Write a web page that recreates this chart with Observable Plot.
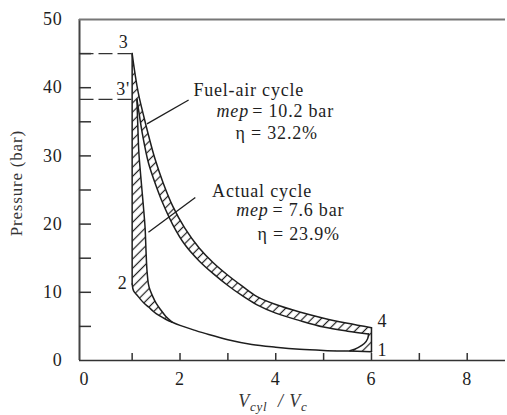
<!DOCTYPE html>
<html><head><meta charset="utf-8">
<script src="https://cdn.jsdelivr.net/npm/d3@7"></script>
<script src="https://cdn.jsdelivr.net/npm/@observablehq/plot@0.6"></script>
<style>
html,body{margin:0;padding:0;background:#fff;}
#chart svg{display:block;}
</style></head><body><div id="chart"></div>
<script>
// ---- data ----
// compression 1 -> 2 (shared by both cycles)
const compV = [6.00,5.50,5.00,4.50,4.00,3.50,3.00,2.60,2.30,2.00,1.84,1.70,1.56,1.45,1.35,1.25,1.17,1.10,1.03,1.00];
const compP = [1.30,1.38,1.48,1.65,1.95,2.35,3.05,3.80,4.45,5.15,5.60,6.05,6.60,7.15,7.80,8.40,9.00,9.60,10.20,11.20];
// fuel-air expansion 3 -> 4
const fuelExpV = [1.00,1.05,1.10,1.15,1.25,1.35,1.48,1.65,1.85,2.10,2.40,2.70,3.00,3.30,3.60,4.00,4.50,5.00,5.50,6.00];
const fuelExpP = [45.0,42.5,40.3,38.5,35.6,32.8,29.5,26.0,22.6,19.4,16.5,14.3,12.5,10.9,9.4,8.2,7.1,6.2,5.45,4.8];
// actual cycle: combustion rise, expansion, blowdown
const actRiseV = [1.84,1.70,1.60,1.50,1.43,1.37,1.34,1.31,1.29,1.27,1.23,1.18,1.14,1.12,1.10];
const actRiseP = [5.60,6.50,7.40,8.40,9.40,10.40,11.20,13.20,16.0,19.5,23.0,27.0,30.5,34.0,38.3];
const actExpV = [1.10,1.15,1.22,1.34,1.48,1.65,1.85,2.10,2.40,2.70,3.00,3.30,3.60,4.00,4.50,5.00,5.50,5.94];
const actExpP = [38.3,36.0,33.0,29.0,26.0,22.9,19.9,17.0,14.6,12.7,11.0,9.5,8.2,6.95,5.85,4.9,4.3,3.9];
const actBlowV = [5.94,5.92,5.85,5.72,5.55];
const actBlowP = [3.9,3.2,2.5,1.9,1.42];
// peak-pressure dashed guides (3 and 3')
const dashV = [1.00,1.10];
const dashP = [45.0,38.3];
// point labels
const ptText = ["3","3'","2","4","1"];
const ptV = [0.82,0.81,0.80,6.23,6.23];
const ptP = [46.6,39.8,11.4,5.7,1.5];
// annotations
const noteText = ["Fuel-air cycle","η = 32.2%","Actual cycle","η = 23.9%"];
const noteV = [2.28,3.16,2.67,3.62];
const noteP = [39.7,33.3,24.8,18.5];
const mepText = ["= 10.2 bar","= 7.6 bar"];
const mepV = [3.44,3.85];
const mepValV = [3.51,3.93];
const mepP = [36.5,22.0];
// pointer lines
const ptrX1 = [2.18,2.32], ptrY1 = [38.2,23.9], ptrX2 = [1.31,1.34], ptrY2 = [34.7,18.8];
// axes
const xTickMarks = [1,2,3,4,5,6,7,8];
const xTickLabels = [0,2,4,6,8];
const yTickMarks = [5,10,15,20,25,30,35,40,45];
const yTickLabels = [0,10,20,30,40,50];

// ---- build tables ----
const pts = (V, P) => V.map((v, i) => ({v, p: P[i]}));
const comp = pts(compV, compP);
const fuelExp = pts(fuelExpV, fuelExpP);
const actRise = pts(actRiseV, actRiseP);
const actExp = pts(actExpV, actExpP);
const actBlow = pts(actBlowV, actBlowP);

const fuelPoly = [...comp, ...fuelExp];
const actPoly = [...comp.filter(d => d.v <= 5.5 && d.v >= 1.84), ...actRise.slice(1), ...actExp.slice(1), ...actBlow.slice(1)];

const seg = (name, arr) => arr.map(d => ({...d, seg: name}));
const strokes = [
  ...seg("comp", comp),
  ...seg("v23", [comp[comp.length - 1], fuelExp[0]]),
  ...seg("fexp", fuelExp),
  ...seg("v41", [fuelExp[fuelExp.length - 1], comp[0]]),
  ...seg("arise", actRise),
  ...seg("aexp", actExp),
  ...seg("ablow", actBlow)
];

const dashes = dashV.map((v, i) => ({x1: -0.1, x2: v, y: dashP[i]}));
const pointers = ptrX1.map((x, i) => ({x1: x, y1: ptrY1[i], x2: ptrX2[i], y2: ptrY2[i]}));
const pl = ptText.map((t, i) => ({t, v: ptV[i], p: ptP[i]}));
const notes = noteText.map((t, i) => ({t, v: noteV[i], p: noteP[i]}));
const meps = mepText.map((t, i) => ({t, v: mepV[i], vv: mepValV[i], p: mepP[i]}));

const INK = "#1e1e1e";
const FONT = "'Liberation Serif', 'Times New Roman', serif";

const plot = Plot.plot({
  width: 507, height: 415,
  marginLeft: 79, marginRight: 2, marginTop: 19, marginBottom: 55,
  x: {domain: [-0.1, 8.8]},
  y: {domain: [0, 50]},
  style: {fontFamily: FONT, fontSize: "18px", color: INK, background: "white", letterSpacing: "0.8px"},
  marks: [
    Plot.line(fuelPoly, {x: "v", y: "p", fill: "url(#hatch)", stroke: "none"}),
    Plot.line(actPoly, {x: "v", y: "p", fill: "white", stroke: "none"}),
    Plot.line(strokes, {x: "v", y: "p", z: "seg", stroke: INK, strokeWidth: 1.5, curve: "catmull-rom"}),
    Plot.link(dashes, {x1: "x1", x2: "x2", y1: "y", y2: "y", stroke: "#333", strokeWidth: 1.3, strokeDasharray: "14,5"}),
    Plot.link(pointers, {x1: "x1", y1: "y1", x2: "x2", y2: "y2", stroke: INK, strokeWidth: 1.3}),
    Plot.text(pl, {x: "v", y: "p", text: "t", fontSize: 18, fill: INK}),
    Plot.text(notes, {x: "v", y: "p", text: "t", textAnchor: "start", fontSize: 18, fill: INK}),
    Plot.text(meps, {x: "v", y: "p", text: () => "mep", textAnchor: "end", fontStyle: "italic", fontSize: 18, fill: INK}),
    Plot.text(meps, {x: "vv", y: "p", text: "t", textAnchor: "start", fontSize: 18, fill: INK}),
    Plot.text(["Pressure (bar)"], {x: -0.1, y: 26, dx: -63, rotate: -90, text: d => d, fontSize: 17, fill: "#333"}),
    Plot.ruleX([-0.1], {stroke: "#444", strokeWidth: 2}),
    Plot.ruleY([0], {stroke: "#333", strokeWidth: 1.6}),
    Plot.ruleY([50], {stroke: "#777", strokeWidth: 2}),
    Plot.axisY({ticks: yTickMarks, tickSize: -12, tickFormat: () => "", label: null, stroke: "#333", strokeWidth: 1.5}),
    Plot.axisY({ticks: yTickLabels, tickSize: 0, tickPadding: 17, label: null, fontSize: 18}),
    Plot.axisX({ticks: xTickMarks, tickSize: -7, tickFormat: () => "", label: null, stroke: "#333", strokeWidth: 1.5}),
    Plot.axisX({ticks: xTickLabels, tickSize: 0, tickPadding: 12, label: null, fontSize: 18})
  ]
});

// hatch pattern
const svg = d3.select(plot);
const defs = svg.insert("defs", ":first-child");
const pat = defs.append("pattern").attr("id", "hatch").attr("patternUnits", "userSpaceOnUse")
  .attr("width", 6.5).attr("height", 6.5).attr("patternTransform", "rotate(45)");
pat.append("rect").attr("width", 6.5).attr("height", 6.5).attr("fill", "white");
pat.append("line").attr("x1", 3.25).attr("y1", 0).attr("x2", 3.25).attr("y2", 6.5)
  .attr("stroke", INK).attr("stroke-width", 1.2);

// x-axis label with subscripts
const xs = plot.scale("x"), ys = plot.scale("y");
const t = svg.append("text").attr("x", xs.apply(3.95)).attr("y", ys.apply(0) + 47)
  .attr("text-anchor", "middle").attr("fill", "#333")
  .style("font-family", FONT).style("font-size", "18px").style("letter-spacing", "0.8px");
t.append("tspan").style("font-style", "italic").text("V");
t.append("tspan").style("font-style", "italic").style("font-size", "13px").attr("dy", 4).text("cyl");
t.append("tspan").style("font-style", "italic").attr("dy", -4).text("\u00a0\u00a0/ V");
t.append("tspan").style("font-style", "italic").style("font-size", "13px").attr("dy", 4).text("c");

document.getElementById("chart").appendChild(plot);
</script></body></html>
